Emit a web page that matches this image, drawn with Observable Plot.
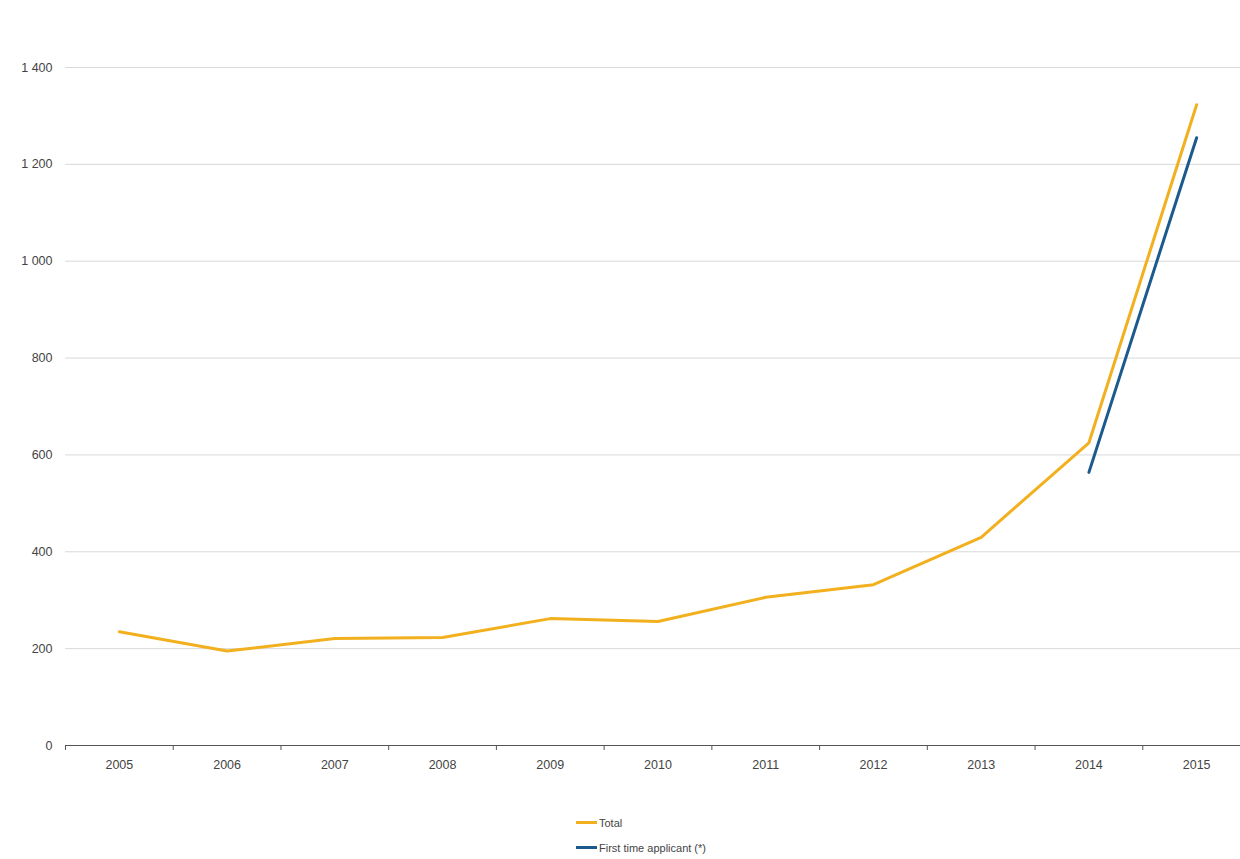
<!DOCTYPE html>
<html>
<head>
<meta charset="utf-8">
<script src="https://cdn.jsdelivr.net/npm/d3@7"></script>
<script src="https://cdn.jsdelivr.net/npm/@observablehq/plot@0.6"></script>
<style>
  html, body { margin: 0; padding: 0; background: #fff; }
  body { width: 1240px; height: 859px; position: relative; overflow: hidden; font-family: "Liberation Sans", Arial, sans-serif; }
  #chart { position: absolute; left: 0; top: 0; }
  #legend { position: absolute; left: 576px; top: 810px; font-size: 11px; color: #444; }
  .item { display: flex; align-items: center; height: 25px; }
  .swatch { width: 21px; height: 3px; margin-right: 2px; }
</style>
</head>
<body>
<div id="chart"></div>
<div id="legend"></div>
<script>
const years = [2005, 2006, 2007, 2008, 2009, 2010, 2011, 2012, 2013, 2014, 2015];
const totalValues = [235, 195, 221, 223, 262, 256, 306, 332, 430, 625, 1323];
const firstYears = [2014, 2015];
const firstValues = [564, 1255];
const seriesNames = ["Total", "First time applicant (*)"];
const seriesColors = ["#f2b01e", "#1c5a8e"];
const yTicks = [0, 200, 400, 600, 800, 1000, 1200, 1400];

const total = years.map((y, i) => ({year: y, value: totalValues[i]}));
const first = firstYears.map((y, i) => ({year: y, value: firstValues[i]}));
const boundaries = years.map(y => y - 0.5).concat([years[years.length - 1] + 0.5]);
const fmt = d => d3.format(",")(d).replace(/,/g, " ");

const chart = Plot.plot({
  width: 1240,
  height: 800,
  marginLeft: 65,
  marginRight: 0,
  marginTop: 67,
  marginBottom: 55,
  style: {fontFamily: "'Liberation Sans', Arial, sans-serif", fontSize: "12.5px", color: "#444", background: "#fff"},
  x: {type: "linear", domain: [2004.5, 2015.5], range: [65, 1250]},
  y: {domain: [0, 1400]},
  marks: [
    Plot.gridY(yTicks.filter(d => d > 0), {stroke: "#d9d9d9", strokeOpacity: 1, strokeWidth: 1}),
    Plot.axisY(yTicks, {tickSize: 0, tickPadding: 13, tickFormat: fmt, label: null, fill: "#444"}),
    Plot.ruleY([0], {stroke: "#555", strokeWidth: 1.2}),
    Plot.axisX(boundaries, {tickSize: 5, tickFormat: () => "", label: null, stroke: "#555"}),
    Plot.axisX(years, {tickSize: 0, tickPadding: 15, tickFormat: d => String(d), label: null, fill: "#444"}),
    Plot.line(total, {x: "year", y: "value", stroke: seriesColors[0], strokeWidth: 3}),
    Plot.line(first, {x: "year", y: "value", stroke: seriesColors[1], strokeWidth: 3})
  ]
});
document.getElementById("chart").appendChild(chart);

const legend = document.getElementById("legend");
seriesNames.forEach((name, i) => {
  const item = document.createElement("div");
  item.className = "item";
  item.innerHTML = `<span class="swatch" style="background:${seriesColors[i]}"></span><span>${name}</span>`;
  legend.appendChild(item);
});
</script>
</body>
</html>
